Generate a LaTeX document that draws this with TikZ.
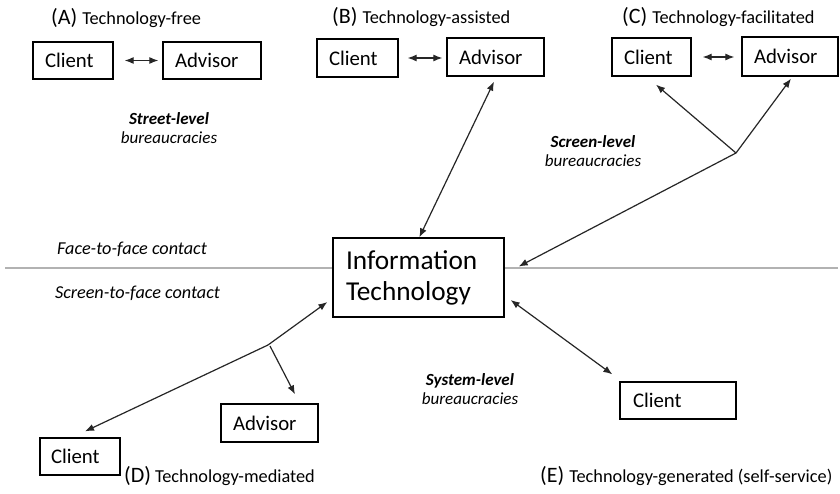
\documentclass[tikz,border=0pt]{standalone}
\usepackage{fontspec}
\setmainfont{Carlito}
\usetikzlibrary{arrows.meta,calc}
\newcommand{\lblbig}[1]{{\fontsize{22}{24}\selectfont #1}}
\newcommand{\lblsmall}[1]{{\fontsize{18.3}{20}\selectfont #1}}
\begin{document}
\begin{tikzpicture}[x=1pt,y=-1pt,
  box/.style={draw=black,line width=1.3pt,fill=white,inner xsep=12pt,inner ysep=0pt,align=left,font=\fontsize{20.8}{24}\selectfont},
  conn/.style={line width=1.2pt,draw=black!85,{Latex[length=9pt,width=7pt]}-{Latex[length=9pt,width=7pt]}},
  oneway/.style={line width=1.2pt,draw=black!85,-{Latex[length=9pt,width=7pt]}},
  lvl/.style={align=center,inner sep=0pt,font=\fontsize{17}{19}\selectfont\itshape},
  contact/.style={inner sep=0pt,font=\fontsize{18.2}{20}\selectfont\itshape},
  lab/.style={inner sep=0pt,anchor=base west}]
\useasboundingbox (0,0) rectangle (840,493);
\fill[white] (0,0) rectangle (840,493);
% divider
\coordinate (hl) at (5,268);
\coordinate (hr) at (838,268);
\draw[line width=2pt,color=black!30] (hl) -- (hr);
% (A)
\node[box,minimum width=80pt,minimum height=37pt,text width=56pt] (clA) at (73,60.5) {Client};
\node[box,minimum width=98pt,minimum height=37pt,text width=74pt] (adA) at (212,60.5) {Advisor};
\node[lab] (labA) at (51,24) {\lblbig{(A)}\hspace{5pt}\lblsmall{Technology-free}};
% (B)
\node[box,minimum width=81pt,minimum height=38pt,text width=57pt] (clB) at (357.5,58) {Client};
\node[box,minimum width=97pt,minimum height=38pt,text width=73pt] (adB) at (495.5,57) {Advisor};
\node[lab] (labB) at (332,23) {\lblbig{(B)}\hspace{5pt}\lblsmall{Technology-assisted}};
% (C)
\node[box,minimum width=79pt,minimum height=38pt,text width=55pt] (clC) at (651.5,57) {Client};
\node[box,minimum width=96pt,minimum height=39pt,text width=72pt] (adC) at (790,56.5) {Advisor};
\node[lab] (labC) at (622,23) {\lblbig{(C)}\hspace{5pt}\lblsmall{Technology-facilitated}};
% IT
\node[box,minimum width=171pt,minimum height=79pt,text width=145pt,inner xsep=13pt,font=\fontsize{27.3}{31}\selectfont] (it) at (418.5,277.5) {Information\\Technology};
% (D)
\node[box,minimum width=97pt,minimum height=38pt,text width=73pt] (adD) at (269.5,423) {Advisor};
\node[box,minimum width=80pt,minimum height=37pt,inner xsep=11pt,text width=58pt] (clD) at (80,456.5) {Client};
\node[lab] (labD) at (124,482) {\lblbig{(D)}\hspace{4pt}\lblsmall{Technology-mediated}};
% (E)
\node[box,minimum width=116pt,minimum height=37pt,text width=90pt,inner xsep=13pt] (clE) at (678,400.5) {Client};
\node[lab] (labE) at (540,482) {\lblbig{(E)}\hspace{5pt}\lblsmall{Technology-generated (self-service)}};
% level labels
\node[lvl] (street) at (169,128.5) {\textbf{Street-level}\\bureaucracies};
\node[lvl] (screen) at (593,151.5) {\textbf{Screen-level}\\bureaucracies};
\node[lvl] (system) at (470,389) {\textbf{System-level}\\bureaucracies};
\node[contact] (f2f) at (132,249) {Face-to-face contact};
\node[contact] (s2f) at (137.5,293) {Screen-to-face contact};
% connectors top row
\draw[conn,shorten <=11pt,shorten >=4pt] (clA.east) -- (adA.west);
\draw[conn,shorten <=9pt,shorten >=4pt] (clB.east) -- (adB.west|-clB.east);
\draw[conn,shorten <=11pt,shorten >=7pt] (clC.east) -- (adC.west|-clC.east);
% B long arrow
\draw[conn] ($(it.north west)+(87,0)$) -- ($(adB.south)+(-1.5,5)$);
% C branch
\coordinate (brC) at (736,153);
\draw[oneway] (brC) -- ($(it.east)+(14,-11)$);
\draw[oneway] (brC) -- ($(clC.south)+(4.5,8)$);
\draw[oneway] (brC) -- ($(adC.south)+(1,2)$);
% D branch
\coordinate (brD) at (268,345);
\coordinate (brD2) at (270,346);
\draw[oneway] (brD) -- ($(it.west)+(-5,24.5)$);
\draw[oneway] (brD) -- ($(clD.north)+(5,-6)$);
\draw[oneway] (brD2) -- ($(adD.north)+(25.5,-9)$);
% E arrow
\draw[conn] ($(it.east)+(6,22.5)$) -- ($(clE.north west)+(-7,-7)$);
\end{tikzpicture}
\end{document}
